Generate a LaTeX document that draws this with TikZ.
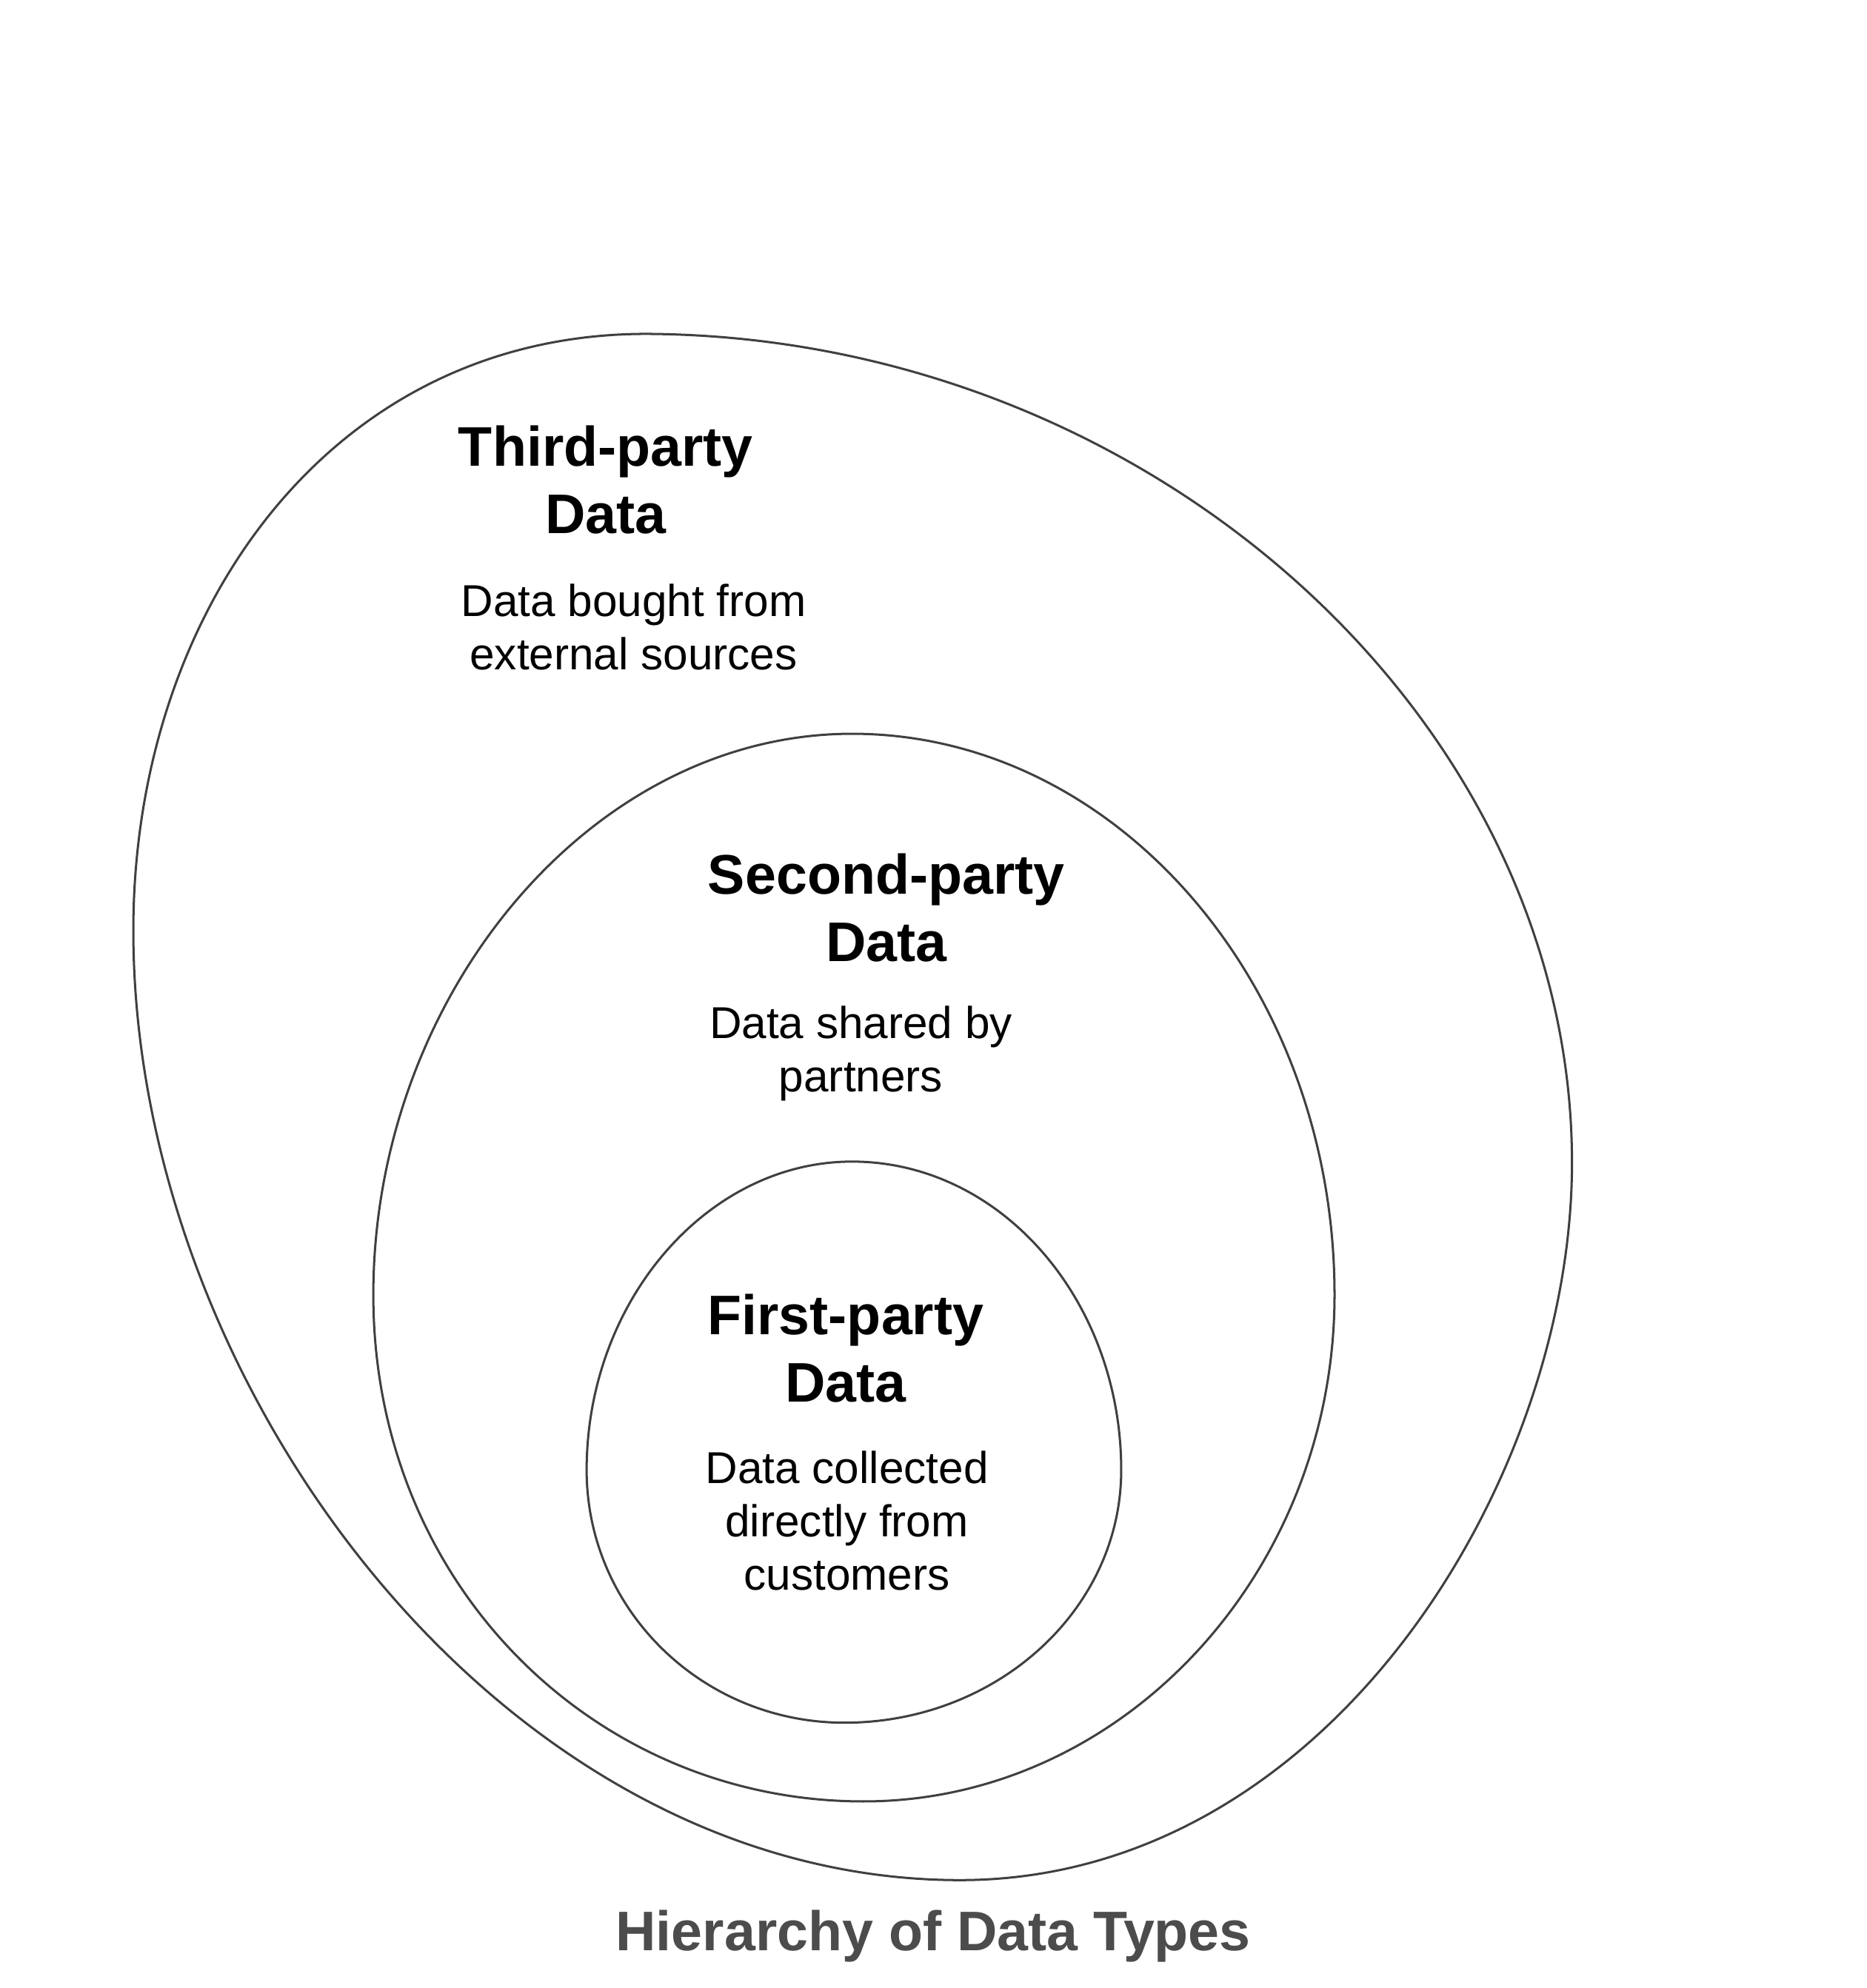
\documentclass[tikz,border=0pt]{standalone}
\usepackage{fontspec}
\setmainfont{Liberation Sans}
\tikzset{
  blob/.style={draw=black!75, line width=0.5pt},
  headtext/.style={align=center, font=\fontsize{12.5}{15}\selectfont\bfseries},
  bodytext/.style={align=center, font=\fontsize{10}{12}\selectfont},
}
\begin{document}
\begin{tikzpicture}[x=0.01cm, y=-0.01cm]
			\useasboundingbox (0,0) rectangle (1470,1566);
			% outer region
			\draw[blob] (509,263)
				.. controls (905,265) and (1238,566) .. (1238,916)
				.. controls (1238,1166) and (1046,1481) .. (756,1481)
				.. controls (396,1481) and (105,1093) .. (105,733)
				.. controls (105,483) and (259,263) .. (509,263);
			% middle region
			\draw[blob] (671,578)
				.. controls (880,578) and (1051,777) .. (1051,1020)
				.. controls (1051,1239) and (884,1419) .. (680,1419)
				.. controls (468,1419) and (294,1248) .. (294,1020)
				.. controls (294,786) and (464,578) .. (671,578);
			% inner region
			\draw[blob] (671,915)
				.. controls (789,915) and (883,1025) .. (883,1158)
				.. controls (883,1268) and (785,1357) .. (665,1357)
				.. controls (553,1357) and (462,1268) .. (462,1158)
				.. controls (462,1025) and (557,915) .. (671,915);
			% labels
			\node[headtext] (third) at (477,378) {Third-party\\Data};
			\node[bodytext] (thirdsub) at (499,494) {Data bought from\\external sources};
			\node[headtext] (second) at (698,715) {Second-party\\Data};
			\node[bodytext] (secondsub) at (678,830) {Data shared by\\partners};
			\node[headtext] (first) at (666,1062) {First-party\\Data};
			\node[bodytext] (firstsub) at (667,1198) {Data collected\\directly from\\customers};
			% caption
			\node[headtext, text=black!70] (caption) at (735,1525) {Hierarchy of Data Types};
		\end{tikzpicture}
\end{document}
